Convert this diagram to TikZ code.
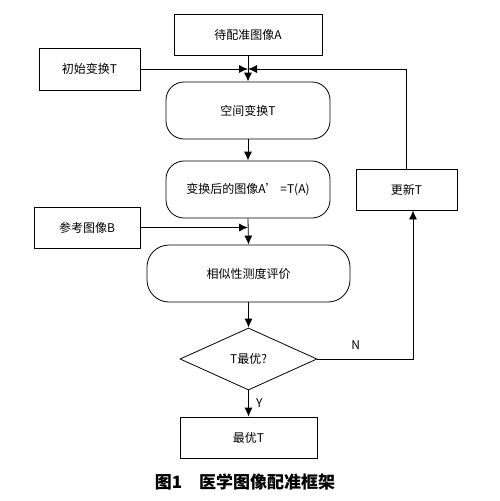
\documentclass[tikz,border=0pt]{standalone}
\usepackage{fontspec}
\newfontfamily\cjk{Noto Sans CJK SC}
\usetikzlibrary{arrows.meta,shapes.geometric,positioning,calc}

\tikzset{
    box/.style={draw, thick, font=\cjk\fontsize{12}{14}\selectfont, inner sep=0pt},
    roundbox/.style={box, rounded corners=18pt},
    decision/.style={draw, thick, diamond, font=\cjk\fontsize{12}{14}\selectfont, inner sep=0pt},
    flow/.style={thick, -{Latex[length=9pt,width=8pt]}},
    lbl/.style={font=\cjk\fontsize{12}{14}\selectfont}
}

\begin{document}
\begin{tikzpicture}[x=1pt, y=-1pt]
    \useasboundingbox (0,0) rectangle (500,501);

    % main column
    \node[box, minimum width=148pt, minimum height=41pt] (imgA) at (248,35) {待配准图像A};
    \node[box, minimum width=101pt, minimum height=42pt] (initT) at (89.5,69) {初始变换T};
    \node[roundbox, minimum width=164pt, minimum height=57pt] (spatial) at (248,110.5) {空间变换T};
    \node[roundbox, minimum width=164pt, minimum height=57pt] (warped) at (248,189.5) {变换后的图像A’ =T(A)};
    \node[box, minimum width=101pt, minimum height=41pt] (update) at (406.5,189.5) {更新T};
    \node[box, minimum width=106pt, minimum height=41pt] (refB) at (87,227.5) {参考图像B};
    \node[roundbox, rounded corners=22pt, minimum width=203pt, minimum height=57pt] (sim) at (248.5,273.5) {相似性测度评价};
    \node[decision, minimum width=137pt, minimum height=62pt] (decide) at (248.5,359) {T最优?};
    \node[box, minimum width=137pt, minimum height=41pt] (best) at (248.5,437.5) {最优T};

    % junctions
    \coordinate (jT) at (248,69);
    \coordinate (jB) at (248,227.5);
    \coordinate (jN) at (413,359);

    % connectors
    \draw[flow] (imgA.south) -- (spatial.north);
    \draw[flow] (initT.east) -- (jT);
    \draw[flow] (update.north) |- (jT);
    \draw[flow] (spatial.south) -- (warped.north);
    \draw[flow] (warped.south) -- (sim.north);
    \draw[flow] (refB.east) -- (jB);
    \draw[flow] (sim.south) -- (decide.north);
    \draw[flow] (decide.south) -- node[lbl, right=4pt] {Y} (best.north);
    \draw[flow] (decide.east) -- node[lbl, above=6pt, pos=0.4] {N} (jN) -- (jN |- update.south);

    % caption
    \node[font=\cjk\bfseries\fontsize{17}{20}\selectfont] (caption) at (245,482) {图1\quad 医学图像配准框架};
\end{tikzpicture}
\end{document}
